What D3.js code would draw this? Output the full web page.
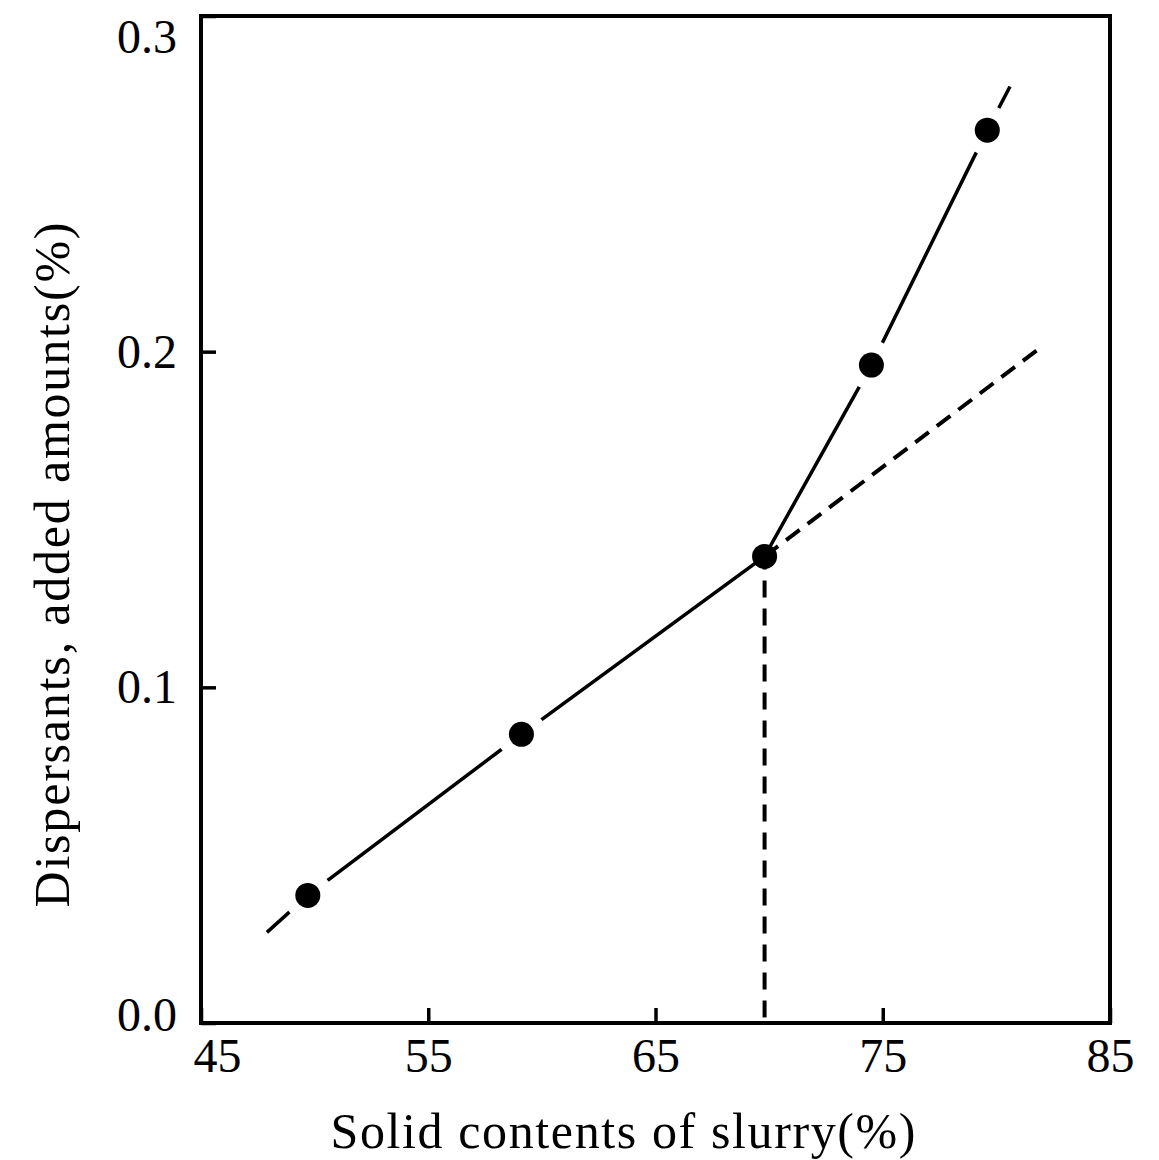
<!DOCTYPE html>
<html>
<head>
<meta charset="utf-8">
<script src="https://cdn.jsdelivr.net/npm/d3@7"></script>
<style>
  body { margin: 0; background: #fff; }
  text { font-family: "Liberation Serif", "Times New Roman", serif; fill: #000; }
</style>
</head>
<body>
<div id="chart"></div>
<script>
// measured points
const solids = [49.7, 59.1, 69.8, 74.5, 79.6];
const dispersants = [0.038, 0.086, 0.139, 0.196, 0.266];
const breakIndex = 2;

// where the drawn lines run out past the points
const lineStart = [47.9, 0.027];
const lineEnd = [80.6, 0.279];
const trendEnd = [81.9, 0.201];

const xTicks = [45, 55, 65, 75, 85];
const yTicks = [0.0, 0.1, 0.2, 0.3];

const width = 1159, height = 1160;

const x = d3.scaleLinear().domain([45, 85]).range([201, 1110]);
const y = d3.scaleLinear().domain([0, 0.3]).range([1023, 16]);

const svg = d3.select("#chart")
  .append("svg")
  .attr("width", width)
  .attr("height", height);

// axes, ticks pointing inside the box
const xAxis = svg.append("g")
  .attr("transform", "translate(0," + y(0) + ")")
  .call(d3.axisBottom(x).tickValues(xTicks).tickSize(-15).tickPadding(15).tickFormat(d3.format("d")));

const yAxis = svg.append("g")
  .attr("transform", "translate(" + x(45) + ",0)")
  .call(d3.axisLeft(y).tickValues(yTicks).tickSize(-15).tickPadding(24).tickFormat(d3.format(".1f")));

[xAxis, yAxis].forEach(function (g) {
  g.select(".domain").remove();
  g.selectAll(".tick line").attr("stroke", "#000").attr("stroke-width", 3.5);
  g.selectAll(".tick text").style("font-size", "48px").attr("fill", "#000");
});

// labels at the ends sit a little inside in the original
xAxis.selectAll(".tick text").attr("dx", function (d) { return d === 45 ? 16 : 0; });
yAxis.selectAll(".tick text").attr("dy", function (d) {
  if (d === 0.3) return "0.76em";
  if (d === 0) return "0.16em";
  return "0.32em";
});

// frame
svg.append("rect")
  .attr("x", x(45))
  .attr("y", y(0.3))
  .attr("width", x(85) - x(45))
  .attr("height", y(0) - y(0.3))
  .attr("fill", "none")
  .attr("stroke", "#000")
  .attr("stroke-width", 4);

const pts = solids.map(function (d, i) { return [d, dispersants[i]]; });
const kink = pts[breakIndex];

const line = d3.line()
  .x(function (d) { return x(d[0]); })
  .y(function (d) { return y(d[1]); });

// dashed continuation of the lower trend
svg.append("path")
  .attr("d", line([kink, trendEnd]))
  .attr("fill", "none")
  .attr("stroke", "#000")
  .attr("stroke-width", 4)
  .attr("stroke-dasharray", "17,10");

// dashed drop to the x axis
svg.append("path")
  .attr("d", line([kink, [kink[0], 0]]))
  .attr("fill", "none")
  .attr("stroke", "#000")
  .attr("stroke-width", 4)
  .attr("stroke-dasharray", "17,11")
  .attr("stroke-dashoffset", 4);

// main broken line
svg.append("path")
  .attr("d", line([lineStart].concat(pts, [lineEnd])))
  .attr("fill", "none")
  .attr("stroke", "#000")
  .attr("stroke-width", 3.5);

// white gaps round the points
svg.selectAll("circle.halo")
  .data(pts.filter(function (d, i) { return i !== breakIndex; }))
  .enter()
  .append("circle")
  .attr("class", "halo")
  .attr("cx", function (d) { return x(d[0]); })
  .attr("cy", function (d) { return y(d[1]); })
  .attr("r", 25)
  .attr("fill", "#fff");

svg.selectAll("circle.dot")
  .data(pts)
  .enter()
  .append("circle")
  .attr("class", "dot")
  .attr("cx", function (d) { return x(d[0]); })
  .attr("cy", function (d) { return y(d[1]); })
  .attr("r", 12.5)
  .attr("fill", "#000");

// axis titles
svg.append("text")
  .attr("x", 623)
  .attr("y", 1148)
  .attr("text-anchor", "middle")
  .attr("textLength", 585)
  .attr("lengthAdjust", "spacing")
  .style("font-size", "50px")
  .text("Solid contents of slurry(%)");

svg.append("text")
  .attr("transform", "translate(69,565)rotate(-90)")
  .attr("text-anchor", "middle")
  .attr("textLength", 685)
  .attr("lengthAdjust", "spacing")
  .style("font-size", "50px")
  .text("Dispersants, added amounts(%)");
</script>
</body>
</html>
